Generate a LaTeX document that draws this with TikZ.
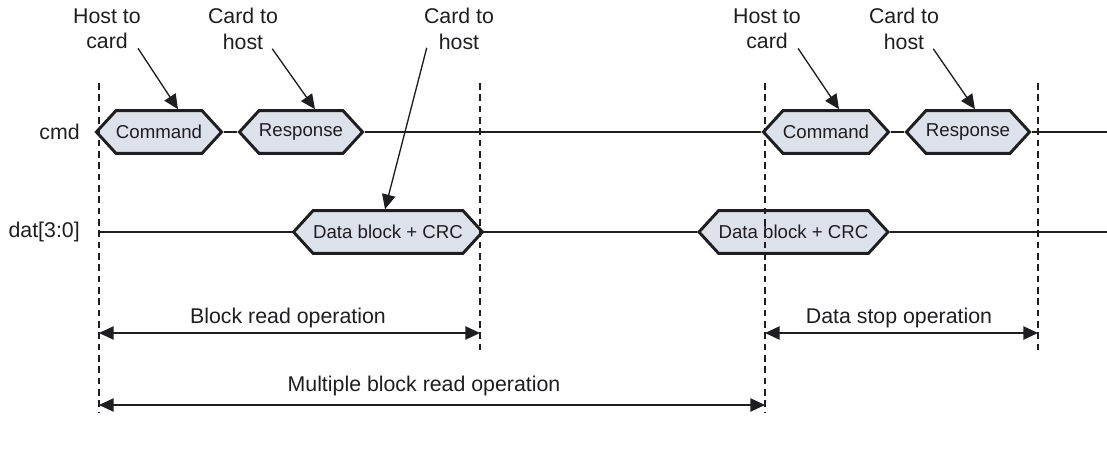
\documentclass[tikz,border=0pt]{standalone}
\usepackage{fontspec}
\setmainfont{Liberation Sans}
\usetikzlibrary{positioning, arrows.meta, shapes.symbols, calc}
\definecolor{inkDark}{RGB}{30, 30, 32}
\definecolor{sigFill}{RGB}{221, 226, 234}
\tikzset{
  sigBox/.style={
    signal, signal to=west and east, signal pointer angle=95,
    draw=inkDark, line width=2.2pt, fill=sigFill,
    minimum height=32pt, inner sep=0pt,
    font=\fontsize{14}{16}\selectfont\color{inkDark}
  },
  sigLine/.style={draw=inkDark, line width=2.2pt},
  sigLabel/.style={
    font=\fontsize{16}{19}\selectfont\color{inkDark},
    inner sep=0pt
  },
  callOut/.style={
    draw=inkDark, line width=1pt,
    -{Triangle[length=11pt, width=10pt]}
  },
  boundLine/.style={draw=inkDark, line width=0.8pt, dash pattern=on 5pt off 3.5pt},
  dimArrow/.style={
    draw=inkDark, line width=1.1pt,
    {Triangle[length=11pt, width=10pt]}-{Triangle[length=11pt, width=10pt]}
  }
}
\begin{document}
\begin{tikzpicture}[x=0.75pt, y=-0.75pt]
  \useasboundingbox (0,0) rectangle (1107,449);

  % signal names
  \node[sigLabel, anchor=east] (cmdName) at (80,132) {cmd};
  \node[sigLabel, anchor=east] (datName) at (80,232) {dat[3:0]};

  % cmd line
  \node[sigBox, minimum width=87pt] (cmdA) at (159,132) {Command};
  \node[sigBox, minimum width=87pt] (rspA) at (301,132) {Response};
  \node[sigBox, minimum width=87pt] (cmdB) at (826,132) {Command};
  \node[sigBox, minimum width=87pt] (rspB) at (968,132) {Response};
  \coordinate (cmdEnd) at (1107,132);
  \draw[sigLine] (cmdA.east) -- (rspA.west);
  \draw[sigLine] (rspA.east) -- (cmdB.west);
  \draw[sigLine] (cmdB.east) -- (rspB.west);
  \draw[sigLine] (rspB.east) -- (cmdEnd);

  % dat line
  \node[sigBox, minimum width=133.5pt] (datA) at (388,232) {Data block + CRC};
  \node[sigBox, minimum width=133pt] (datB) at (793.5,232) {Data block + CRC};
  \coordinate (datStart) at (99,232);
  \coordinate (datEnd) at (1107,232);
  \draw[sigLine] (datStart) -- (datA.west);
  \draw[sigLine] (datA.east) -- (datB.west);
  \draw[sigLine] (datB.east) -- (datEnd);

  % boundaries
  \coordinate (bndATop) at (99,83);   \coordinate (bndABot) at (99,412);
  \coordinate (bndBTop) at (480,83);  \coordinate (bndBBot) at (480,352);
  \coordinate (bndCTop) at (765,83);  \coordinate (bndCBot) at (765,412);
  \coordinate (bndDTop) at (1038,83); \coordinate (bndDBot) at (1038,352);
  \draw[boundLine] (bndATop) -- (bndABot);
  \draw[boundLine] (bndBTop) -- (bndBBot);
  \draw[boundLine] (bndCTop) -- (bndCBot);
  \draw[boundLine] (bndDTop) -- (bndDBot);

  % call-outs
  \node[sigLabel, align=center] (htcA) at (107,29) {Host to\\card};
  \node[sigLabel, align=center] (cthA) at (243,29) {Card to\\host};
  \node[sigLabel, align=center] (cthB) at (459,29) {Card to\\host};
  \node[sigLabel, align=center] (htcB) at (767,29) {Host to\\card};
  \node[sigLabel, align=center] (cthC) at (904,29) {Card to\\host};
  \draw[callOut] ($(htcA.south east)+(-3,-1)$) -- ($(cmdA.north)+(19,0)$);
  \draw[callOut] ($(cthA.south east)+(-6,-1)$) -- ($(rspA.north)+(14,0)$);
  \draw[callOut] ($(cthB.south west)+(3,-2)$) -- ($(datA.north)+(-3,0)$);
  \draw[callOut] ($(htcB.south east)+(-3,-1)$) -- ($(cmdB.north)+(13,0)$);
  \draw[callOut] ($(cthC.south east)+(-6,-1)$) -- ($(rspB.north)+(7,0)$);

  % operations
  \coordinate (blkL) at (99,333);  \coordinate (blkR) at (480,333);
  \coordinate (stpL) at (765,333); \coordinate (stpR) at (1038,333);
  \coordinate (mulL) at (99,405);  \coordinate (mulR) at (765,405);
  \draw[dimArrow] (blkL) -- (blkR);
  \draw[dimArrow] (stpL) -- (stpR);
  \draw[dimArrow] (mulL) -- (mulR);
  \node[sigLabel] (blkText) at (288,318) {Block read operation};
  \node[sigLabel] (stpText) at (899,318) {Data stop operation};
  \node[sigLabel] (mulText) at (424,386) {Multiple block read operation};
\end{tikzpicture}
\end{document}
